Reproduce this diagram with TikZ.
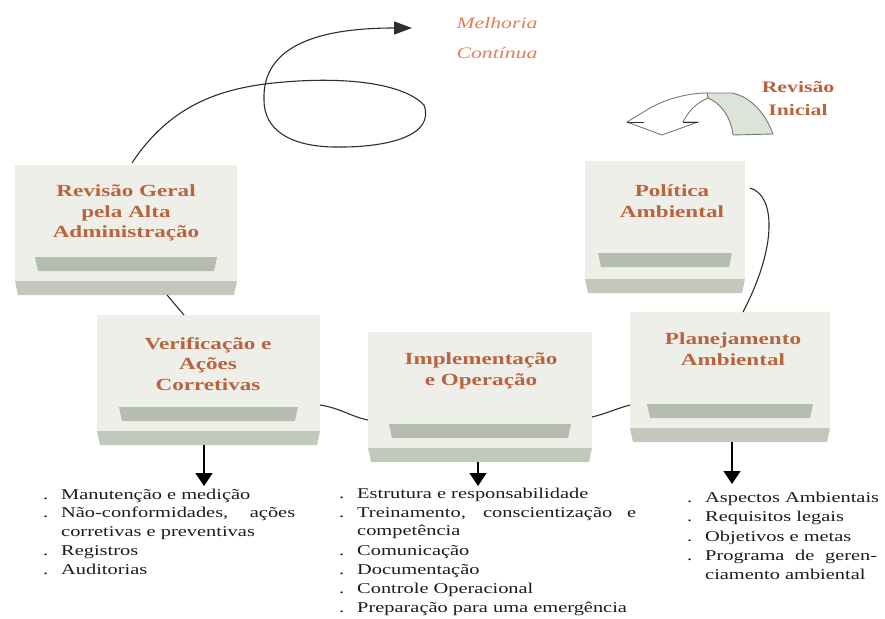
\documentclass[tikz,border=0pt]{standalone}
\usepackage{fontspec}
\setmainfont{Liberation Serif}
\newfontfamily\wfont[FakeStretch=1.36]{Liberation Serif}
\usetikzlibrary{arrows.meta,calc}
\definecolor{titlec}{HTML}{B8643E}
\definecolor{melc}{HTML}{E08058}
\definecolor{facec}{HTML}{EFEFEA}
\definecolor{stripc}{HTML}{B5BDAE}
\definecolor{strip2c}{HTML}{C2C9BC}
\definecolor{linec}{HTML}{2E2E2E}
\definecolor{txtc}{HTML}{1C1C1C}
\definecolor{ribbonc}{HTML}{DDE3D8}
\definecolor{outlc}{HTML}{6F7D6C}
\newcommand\bul{\llap{.\hspace{13pt}}}
\newcommand\tray[6]{%
  \node[boxnode, minimum width={#4-#2}, minimum height={#5-#3}] (#1) at ({(#2+#4)/2},{(#3+#5)/2}) {};
  \fill[facec] (#2,#3) rectangle (#4,{#5-14});
  \fill[stripc] ({#2+#6},{#3+92}) -- ({#4-#6},{#3+92}) -- ({#4-#6-3},{#3+106}) -- ({#2+#6+3},{#3+106}) -- cycle;
  \fill[strip2c] (#2,{#5-14}) -- (#4,{#5-14}) -- ({#4-3},#5) -- ({#2+3},#5) -- cycle;
}
\begin{document}
\begin{tikzpicture}[x=1pt,y=-1pt,
  boxnode/.style={draw=none,fill=none,inner sep=0pt,outer sep=0pt},
  title/.style={inner sep=0pt,align=center,text=titlec,font=\wfont\bfseries\fontsize{17}{20.5}\selectfont},
  mel/.style={inner sep=0pt,align=center,text=melc,font=\wfont\itshape\fontsize{16}{30}\selectfont},
  li/.style={anchor=base west,inner sep=0pt,text=txtc,font=\wfont\fontsize{15}{19}\selectfont},
  conn/.style={draw=linec,line width=1.1pt},
  darr/.style={draw=black,line width=1.4pt,-{Triangle[length=13pt,width=17pt]}}]
\useasboundingbox (0,0) rectangle (885,618);
\fill[white] (0,0) rectangle (885,618);

% boxes
\tray{rg}{15}{165}{237}{295}{20}
\tray{pa}{585}{161}{745}{293}{13}
\tray{ve}{97}{315}{320}{445}{22}
\tray{im}{368}{332}{592}{462}{21}
\tray{pl}{630}{312}{830}{442}{17}

% titles
\node[title] (rg-t) at (126,213) {Revisão Geral\\pela Alta\\Administração};
\node[title] (pa-t) at (672,201) {Política\\Ambiental};
\node[title] (ve-t) at (208,364) {Verificação e\\Ações\\Corretivas};
\node[title] (im-t) at (481,371) {Implementação\\e Operação};
\node[title] (pl-t) at (733,349) {Planejamento\\Ambiental};
\node[title,font=\wfont\bfseries\fontsize{16}{23}\selectfont] (ri-t) at (798,99) {Revisão\\Inicial};
\node[mel] (mc-t) at (497,38) {Melhoria\\Contínua};

% Revisao inicial curved arrow
\filldraw[fill=ribbonc,draw=outlc,line width=0.9pt] (707,93) -- (732,93) .. controls (752,97) and (766,115) .. (773,134) -- (733,135) .. controls (731,118) and (722,104) .. (708,98) -- cycle;
\filldraw[fill=white,draw=outlc,line width=0.9pt] (708,98) .. controls (696,103) and (688,112) .. (683,122) -- (698,122) -- (662,135) -- (627,122) -- (650,108) .. controls (668,98) and (690,93) .. (707,93) -- cycle;
\draw[linec,line width=1pt] (627,122) -- (644,122);
\draw[linec,line width=1pt] (683,122) -- (698,122);

% connectors
\coordinate (lp-end) at (412,28);
\draw[conn,-{Triangle[length=18pt,width=13pt]}] ($(rg.north)+(6,-2)$) .. controls (170,105) and (220,90) .. (265,84)
   .. controls (330,76) and (400,80) .. (424,105)
   .. controls (435,135) and (390,148) .. (333,147)
   .. controls (290,146) and (264,130) .. (264,100)
   .. controls (262,45) and (320,28) .. (lp-end);
\draw[conn] ($(rg.south)+(41,0)$) -- ($(ve.north)+(-24.5,0)$);
\draw[conn] ($(ve.east)+(0,25)$) .. controls (340,408) and (352,417) .. ($(im.west)+(0,23)$);
\draw[conn] ($(im.east)+(0,20)$) .. controls (605,414) and (618,408) .. ($(pl.west)+(0,28)$);
\draw[conn] ($(pa.east)+(5,-39)$) .. controls (775,195) and (778,245) .. ($(pl.north)+(13,0)$);

% down arrows
\coordinate (va) at (204,486);
\coordinate (vb) at (478,486);
\coordinate (vc) at (732,484);
\draw[darr] (ve.south -| va) -- (va);
\draw[darr] (im.south -| vb) -- (vb);
\draw[darr] (pl.south -| vc) -- (vc);

% lists
\node[li] (a1) at (61,499) {\bul Manutenção e medição};
\node[li] (a2) at (61,517) {\bul\makebox[234pt][s]{Não-conformidades, ações}};
\node[li] (a3) at (61,536) {corretivas e preventivas};
\node[li] (a4) at (61,555) {\bul Registros};
\node[li] (a5) at (61,574) {\bul Auditorias};

\node[li] (b1) at (357,498) {\bul Estrutura e responsabilidade};
\node[li] (b2) at (357,517) {\bul\makebox[279pt][s]{Treinamento, conscientização e}};
\node[li] (b3) at (357,535) {competência};
\node[li] (b4) at (357,555) {\bul Comunicação};
\node[li] (b5) at (357,574) {\bul Documentação};
\node[li] (b6) at (357,593) {\bul Controle Operacional};
\node[li] (b7) at (357,612) {\bul Preparação para uma emergência};

\node[li] (c1) at (705,502) {\bul Aspectos Ambientais};
\node[li] (c2) at (705,521) {\bul Requisitos legais};
\node[li] (c3) at (705,541) {\bul Objetivos e metas};
\node[li] (c4) at (705,560) {\bul\makebox[172pt][s]{Programa de geren-}};
\node[li] (c5) at (705,579) {ciamento ambiental};
\end{tikzpicture}
\end{document}
